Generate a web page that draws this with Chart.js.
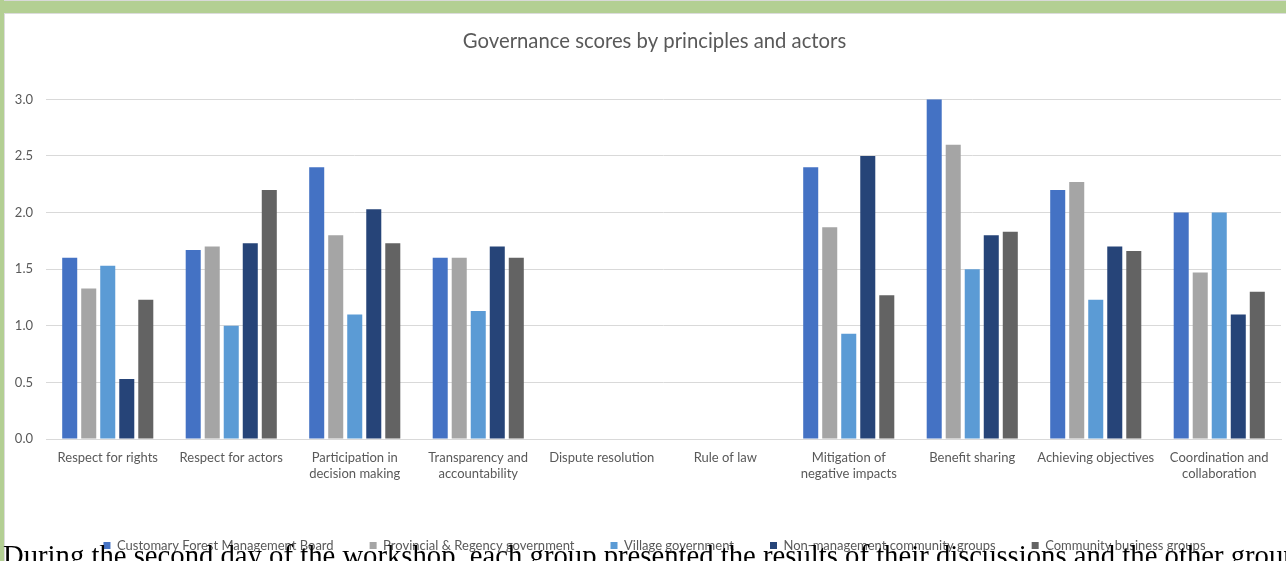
<!DOCTYPE html>
<html>
<head>
<meta charset="utf-8">
<script src="https://cdn.jsdelivr.net/npm/chart.js@4/dist/chart.umd.min.js"></script>
<style>
  html, body { margin: 0; padding: 0; background: #fff; overflow: hidden; }
  body { width: 1286px; height: 561px; position: relative; overflow: hidden; }
  #topline { position: absolute; left: 0; top: 0; width: 1286px; height: 1px; background: #d9d9d9; }
  #topband { position: absolute; left: 0; top: 1px; width: 1286px; height: 12px; background: #b3cf93; }
  #leftband { position: absolute; left: 0; top: 0; width: 4px; height: 561px; background: #b3cf93; }
  #innerTop { position: absolute; left: 4px; top: 13px; width: 1282px; height: 1px; background: #dcdcdc; }
  #innerLeft { position: absolute; left: 4px; top: 13px; width: 1px; height: 548px; background: #dcdcdc; }
  #wrap { position: absolute; left: 6px; top: 15px; width: 1297px; height: 547px; }
  #para { position: absolute; left: 3px; top: 540.5px; white-space: nowrap;
          font-family: "Liberation Serif", "DejaVu Serif", serif; font-size: 28.7px; line-height: 28.7px; color: #000; }
</style>
</head>
<body>
<div id="topline"></div>
<div id="topband"></div>
<div id="leftband"></div>
<div id="innerTop"></div>
<div id="innerLeft"></div>
<div id="wrap"><canvas id="c"></canvas></div>
<div id="para">During the second day of the workshop, each group presented the results of their discussions and the other groups</div>
<script>
const categories = [
  "Respect for rights",
  "Respect for actors",
  ["Participation in", "decision making"],
  ["Transparency and", "accountability"],
  "Dispute resolution",
  "Rule of law",
  ["Mitigation of", "negative impacts"],
  "Benefit sharing",
  "Achieving objectives",
  ["Coordination and", "collaboration"]
];
const seriesNames = [
  "Customary Forest Management Board",
  "Provincial & Regency government",
  "Village government",
  "Non-management community groups",
  "Community business groups"
];
const customaryBoard = [1.6, 1.67, 2.4, 1.6, null, null, 2.4, 3.0, 2.2, 2.0];
const provincialRegency = [1.33, 1.7, 1.8, 1.6, null, null, 1.87, 2.6, 2.27, 1.47];
const villageGov = [1.53, 1.0, 1.1, 1.13, null, null, 0.93, 1.5, 1.23, 2.0];
const nonManagement = [0.53, 1.73, 2.03, 1.7, null, null, 2.5, 1.8, 1.7, 1.1];
const communityBusiness = [1.23, 2.2, 1.73, 1.6, null, null, 1.27, 1.83, 1.66, 1.3];
const seriesColors = ["#4472C4", "#A5A5A5", "#5B9BD5", "#264478", "#636363"];
const yTickLabels = ["0.0", "0.5", "1.0", "1.5", "2.0", "2.5", "3.0"];

const seriesData = [customaryBoard, provincialRegency, villageGov, nonManagement, communityBusiness];
const FONT = "Lato, 'Open Sans', 'Liberation Sans', sans-serif";

new Chart(document.getElementById("c"), {
  type: "bar",
  data: {
    labels: categories,
    datasets: seriesData.map((d, i) => ({
      label: seriesNames[i],
      data: d,
      backgroundColor: seriesColors[i],
      borderWidth: 0,
      categoryPercentage: 0.77,
      barPercentage: 0.79
    }))
  },
  options: {
    responsive: true,
    maintainAspectRatio: false,
    animation: false,
    layout: { padding: { top: 4, left: 0, right: 0, bottom: 0 } },
    plugins: {
      title: {
        display: true,
        text: "Governance scores by principles and actors",
        color: "#595959",
        font: { family: FONT, size: 20.3, weight: "normal" },
        padding: { top: 10, bottom: 46 }
      },
      legend: {
        position: "bottom",
        labels: {
          boxWidth: 7,
          boxHeight: 7,
          padding: 36,
          color: "#595959",
          font: { family: FONT, size: 13 }
        }
      },
      tooltip: { enabled: false }
    },
    scales: {
      x: {
        grid: { display: false, drawTicks: false },
        border: { display: true, color: "#d9d9d9", width: 1 },
        ticks: {
          color: "#595959",
          font: { family: FONT, size: 13, lineHeight: 1.23 },
          padding: 11,
          maxRotation: 0,
          autoSkip: false
        },
        afterFit: (s) => { s.height = 64; }
      },
      y: {
        min: 0,
        max: 3,
        grid: { color: "#d9d9d9", lineWidth: 1, drawTicks: false },
        border: { display: false },
        ticks: {
          stepSize: 0.5,
          color: "#595959",
          font: { family: FONT, size: 13 },
          padding: 13,
          callback: (v, i) => yTickLabels[i]
        },
        afterFit: (s) => { s.width = 40; }
      },
      yRight: {
        type: "linear",
        position: "right",
        min: 0,
        max: 3,
        grid: { display: false, drawTicks: false },
        border: { display: false },
        ticks: { display: false },
        afterFit: (s) => { s.width = 22; }
      }
    }
  }
});
</script>
</body>
</html>
